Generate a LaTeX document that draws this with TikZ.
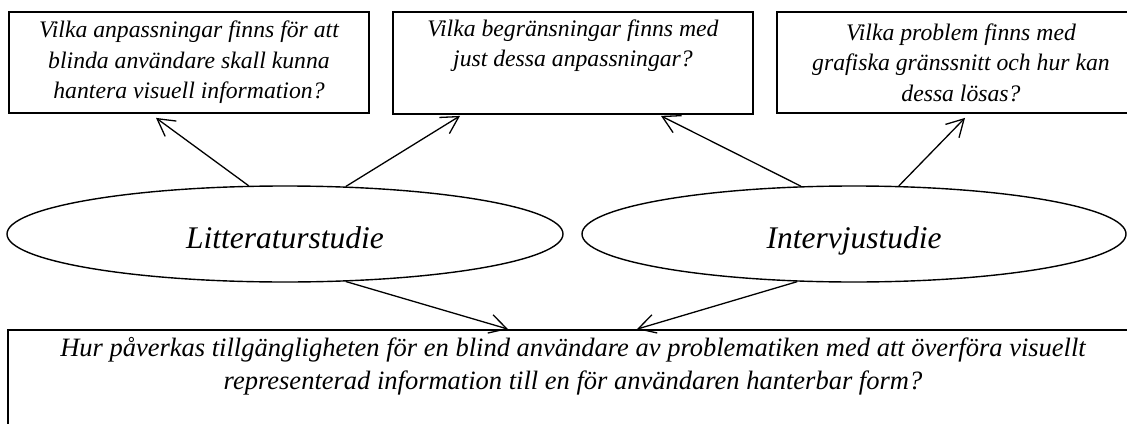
\documentclass[tikz,border=0pt]{standalone}
\usepackage{fontspec}
\setmainfont{Liberation Serif}
\usetikzlibrary{shapes.geometric,arrows.meta}
\tikzset{
  qbox/.style={draw, line width=1.8pt, rectangle, inner sep=0pt, align=center,
    font=\itshape\fontsize{23.7}{30.5}\selectfont},
  study/.style={draw, line width=1.4pt, ellipse, inner sep=0pt,
    text height=28pt, text depth=0pt,
    font=\itshape\fontsize{31.5}{36}\selectfont},
  conn/.style={line width=1.3pt, -{Straight Barb[length=17pt,width=19pt,line width=1.3pt]}}
}
\begin{document}
\begin{tikzpicture}[x=1pt,y=-1pt]
\useasboundingbox (0,0) rectangle (1127,423);
\begin{scope}
\clip (0,0) rectangle (1127,423);
\node[qbox, minimum width=360pt, minimum height=101pt] (B1) at (189,62.5)
  {Vilka anpassningar finns för att\\blinda användare skall kunna\\hantera visuell information?};
\node[qbox, minimum width=360pt, minimum height=102pt] (B2) at (573,63)
  {Vilka begränsningar finns med\\just dessa anpassningar?\\\strut};
\node[qbox, minimum width=368pt, minimum height=101pt] (B3) at (961,62.5)
  {Vilka problem finns med\\grafiska gränssnitt och hur kan\\dessa lösas?};
\node[study, minimum width=556pt, minimum height=96pt] (L) at (285,234) {Litteraturstudie};
\node[study, minimum width=544pt, minimum height=96pt] (I) at (854,234) {Intervjustudie};
\node[qbox, minimum width=1130pt, minimum height=110pt,
  font=\itshape\fontsize{26.5}{33}\selectfont] (BB) at (573,385)
  {Hur påverkas tillgängligheten för en blind användare av problematiken med att överföra visuellt\\representerad information till en för användaren hanterbar form?\\\strut};
\draw[conn] (L.127.7) -- ([xshift=-33pt,yshift=-4pt]B1.south);
\draw[conn] (L.38.7) -- ([xshift=-113pt,yshift=-1pt]B2.south);
\draw[conn] (I.138.2) -- ([xshift=88pt,yshift=-1pt]B2.south);
\draw[conn] (I.47.5) -- ([xshift=4pt,yshift=-4pt]B3.south);
\draw[conn] (L.-38.7) -- ([xshift=-65pt]BB.north);
\draw[conn] (I.220.8) -- ([xshift=64pt]BB.north);
\end{scope}
\end{tikzpicture}
\end{document}
